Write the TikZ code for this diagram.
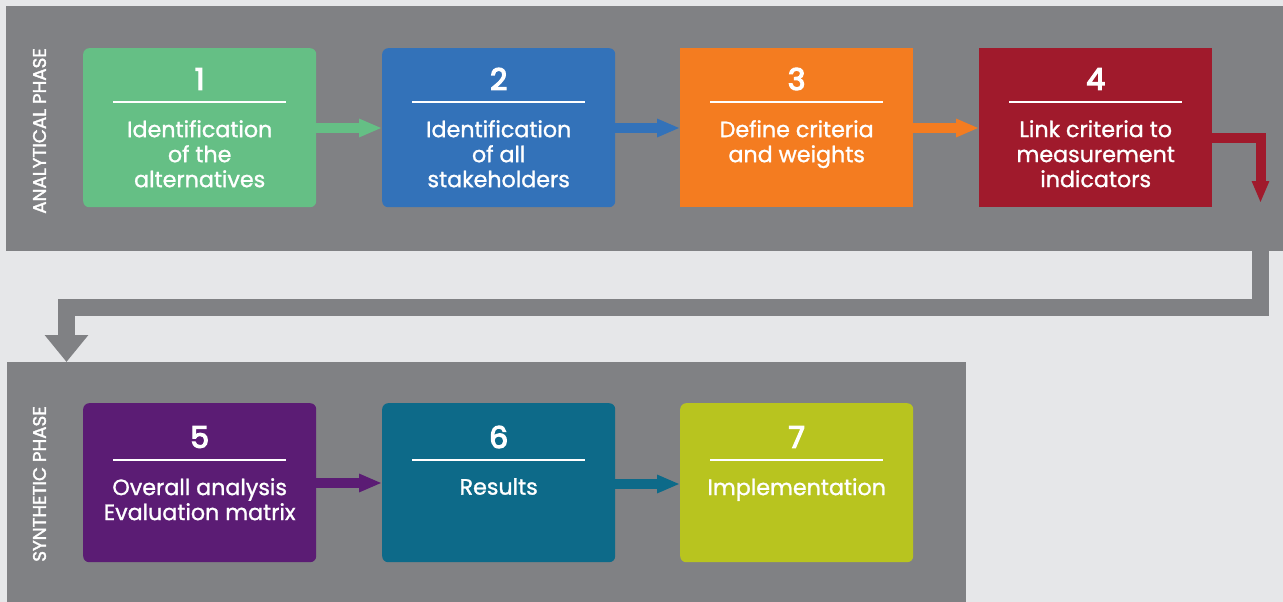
\documentclass[tikz,border=0pt]{standalone}
\usepackage{fontspec}
\setmainfont{Poppins}[FakeBold=1.2]
\newfontfamily\bodyfont{Poppins}[FakeBold=1.2]
\newfontfamily\medfont{Poppins}[FakeBold=4]
\newfontfamily\labfont{Poppins}[FakeBold=2]
\usetikzlibrary{arrows.meta}
\definecolor{bgc}{HTML}{E6E7E9}
\definecolor{panelc}{HTML}{808184}
\definecolor{c1}{HTML}{65BF85}
\definecolor{c2}{HTML}{3372B9}
\definecolor{c3}{HTML}{F47C20}
\definecolor{c4}{HTML}{A01A2C}
\definecolor{c5}{HTML}{5B1C74}
\definecolor{c6}{HTML}{0D6A89}
\definecolor{c7}{HTML}{B8C41F}
\tikzset{
  stepbox/.style={minimum width=233pt, minimum height=159pt, inner sep=0pt, anchor=north west, draw=none},
  rstepbox/.style={stepbox, rounded corners=6pt},
  numtxt/.style={text=white, inner sep=0pt, anchor=center, font=\fontsize{30}{30}\selectfont\medfont},
  bodytxt/.style={text=white, inner sep=0pt, anchor=north, align=center, font=\fontsize{22.2}{25}\selectfont\bodyfont},
  phasetxt/.style={text=white, inner sep=0pt, rotate=90, font=\fontsize{18.3}{18.3}\selectfont\labfont},
  sepline/.style={white, line width=1.2pt},
  flow/.style={line width=10pt, -{Triangle[length=23pt,width=17pt]}},
}
\begin{document}
\begin{tikzpicture}[x=1pt,y=-1pt]
\useasboundingbox (0,0) rectangle (1283,602);
\fill[bgc] (0,0) rectangle (1283,602);
% panels
\node[fill=panelc, minimum width=1277pt, minimum height=245pt, inner sep=0pt, anchor=north west] (ptop) at (6,6) {};
\node[fill=panelc, minimum width=959pt, minimum height=240pt, inner sep=0pt, anchor=north west] (pbot) at (7,362) {};
\node[phasetxt] (lab1) at (39.5,131) {ANALYTICAL PHASE};
\node[phasetxt] (lab2) at (39.5,484) {SYNTHETIC PHASE};
% top row boxes
\node[rstepbox, fill=c1] (b1) at (83,48) {};
\node[rstepbox, fill=c2] (b2) at (382,48) {};
\node[stepbox, fill=c3] (b3) at (680,48) {};
\node[stepbox, fill=c4] (b4) at (979,48) {};
% bottom row boxes
\node[rstepbox, fill=c5] (b5) at (83,403) {};
\node[rstepbox, fill=c6] (b6) at (382,403) {};
\node[rstepbox, fill=c7] (b7) at (680,403) {};
% contents top row
\foreach \b/\n/\t in {b1/1/{Identification\\of the\\alternatives}, b2/2/{Identification\\of all\\stakeholders}, b3/3/{Define criteria\\and weights}, b4/4/{Link criteria to\\measurement\\indicators}}{
  \node[numtxt] (\b n) at ([yshift=-31pt]\b.north) {\n};
  \draw[sepline] ([xshift=30pt,yshift=-54pt]\b.north west) -- ([xshift=-30pt,yshift=-54pt]\b.north east);
  \node[bodytxt] (\b t) at ([yshift=-72pt]\b.north) {\t};
}
\foreach \b/\n/\t in {b5/5/{Overall analysis\\Evaluation matrix}, b6/6/{Results}, b7/7/{Implementation}}{
  \node[numtxt] (\b n) at ([yshift=-34pt]\b.north) {\n};
  \draw[sepline] ([xshift=30pt,yshift=-57pt]\b.north west) -- ([xshift=-30pt,yshift=-57pt]\b.north east);
  \node[bodytxt] (\b t) at ([yshift=-75pt]\b.north) {\t};
}
% arrows
\draw[flow, c1] ([yshift=-80pt]b1.north east) -- ([yshift=-80pt]b2.north west);
\draw[flow, c2] ([yshift=-80pt]b2.north east) -- ([yshift=-80pt]b3.north west);
\draw[flow, c3] ([yshift=-80pt]b3.north east) -- ([yshift=-80pt]b4.north west);
\draw[flow, c5] ([yshift=-80pt]b5.north east) -- ([yshift=-80pt]b6.north west);
\draw[flow, c6] ([yshift=-81pt]b6.north east) -- ([yshift=-81pt]b7.north west);
% red down arrow
\coordinate (rd) at (1260.5,203);
\draw[c4, line width=10pt, -{Triangle[length=22pt,width=16pt]}] ([yshift=-90pt]b4.north east) -| (rd);
% gray connector between phases
\coordinate (g1) at (1260,248);
\coordinate (g2) at (66.5,362);
\draw[panelc, line width=17pt, -{Triangle[length=27pt,width=42pt]}] (g1) -- (1260,307.5) -- (66.5,307.5) -- (g2);
\end{tikzpicture}
\end{document}
